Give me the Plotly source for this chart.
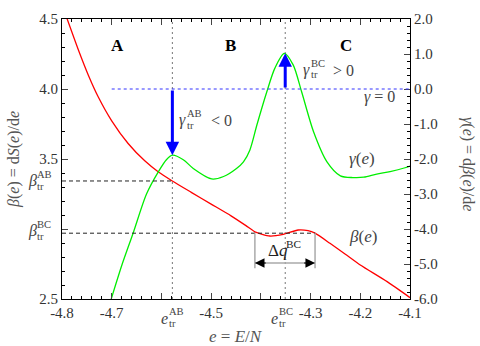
import plotly.graph_objects as go

# beta(e)
e_beta = [-4.791, -4.767, -4.747, -4.727, -4.700, -4.667, -4.633, -4.606, -4.579,
          -4.540, -4.500, -4.460, -4.430, -4.412, -4.382, -4.355, -4.325, -4.305,
          -4.291, -4.261, -4.230, -4.200, -4.146, -4.100]
beta = [4.514, 4.279, 4.099, 3.943, 3.773, 3.611, 3.485, 3.407, 3.345,
        3.262, 3.178, 3.094, 3.024, 2.980, 2.950, 2.962, 2.993, 2.988,
        2.970, 2.898, 2.820, 2.743, 2.624, 2.510]

# gamma(e)
e_gamma = [-4.701, -4.680, -4.657, -4.630, -4.606, -4.590, -4.578, -4.556, -4.536,
           -4.499, -4.475, -4.449, -4.435, -4.422, -4.408, -4.388, -4.372, -4.353,
           -4.335, -4.318, -4.294, -4.267, -4.240, -4.215, -4.193, -4.167, -4.140,
           -4.110, -4.100]
gamma = [-6.00, -5.05, -4.12, -3.00, -2.36, -2.02, -1.89, -2.02, -2.27,
         -2.57, -2.50, -2.27, -2.08, -1.74, -1.03, -0.08, 0.59, 1.02,
         0.69, -0.08, -1.22, -2.08, -2.48, -2.53, -2.52, -2.43, -2.36,
         -2.25, -2.20]

e_tr_ab = -4.578
e_tr_bc = -4.351
beta_tr_ab = 3.343
beta_tr_bc = 2.970
gamma_tr_ab = -1.89
gamma_tr_bc = 1.02
dq_left = -4.412
dq_right = -4.291

x_ticks = [-4.8, -4.7, -4.6, -4.5, -4.4, -4.3, -4.2, -4.1]
x_ticktext = ['-4.8', '-4.7', '', '-4.5', '', '-4.3', '-4.2', '-4.1']
y_ticks = [2.5, 3.0, 3.5, 4.0, 4.5]
y_ticktext = ['2.5', '', '3.5', '4.0', '4.5']
y2_ticks = [-6, -5, -4, -3, -2, -1, 0, 1, 2]
y2_ticktext = ['-6.0', '-5.0', '-4.0', '-3.0', '-2.0', '-1.0', '0.0', '1.0', '2.0']

FONT = 'Liberation Serif'
L, R, T, B = 62, 70, 19, 47
W, H = 480, 346


def paper(px, py):
    # pixel position in the window -> paper coordinates
    return (px - L) / (W - L - R), (H - B - py) / (H - T - B)


def text(fig, px, py, s, size=16, color='#444', anchor='left', angle=0):
    x, y = paper(px, py)
    fig.add_annotation(x=x, y=y, xref='paper', yref='paper', text=s, showarrow=False,
                       xanchor=anchor, yanchor='middle', textangle=angle,
                       font=dict(family=FONT, size=size, color=color))


def math_sym(fig, px, py, base, sup, sub, size=16, color='#444', base_w=8):
    # symbol with stacked superscript and subscript
    text(fig, px, py, base, size, color)
    text(fig, px + base_w, py - 7, sup, size * 0.66, color)
    if sub:
        text(fig, px + base_w, py + 5, sub, size * 0.66, color)


fig = go.Figure()
fig.add_trace(go.Scatter(x=e_beta, y=beta, mode='lines',
                         line=dict(color='#ff0000', width=1.3, shape='spline', smoothing=0.6),
                         yaxis='y', showlegend=False))
fig.add_trace(go.Scatter(x=e_gamma, y=gamma, mode='lines',
                         line=dict(color='#00ee00', width=1.3, shape='spline', smoothing=0.8),
                         yaxis='y2', showlegend=False))

# guide lines
for xv in [e_tr_ab, e_tr_bc]:
    fig.add_shape(type='line', x0=xv, x1=xv, y0=0, y1=1, xref='x', yref='paper',
                  line=dict(color='#777', width=1, dash='2px,3px'), layer='below')
fig.add_shape(type='line', x0=-4.8, x1=e_tr_ab, y0=beta_tr_ab, y1=beta_tr_ab, xref='x', yref='y',
              line=dict(color='#222', width=1, dash='4px,3px'))
fig.add_shape(type='line', x0=-4.8, x1=dq_right, y0=beta_tr_bc, y1=beta_tr_bc, xref='x', yref='y',
              line=dict(color='#222', width=1, dash='4px,3px'))
fig.add_shape(type='line', x0=-4.7, x1=-4.1, y0=0, y1=0, xref='x', yref='y2',
              line=dict(color='#3333ff', width=1, dash='3px,3px'))

# delta q bracket
for xv in [dq_left, dq_right]:
    fig.add_shape(type='line', x0=xv, x1=xv, y0=beta_tr_bc, y1=2.72, xref='x', yref='y',
                  line=dict(color='#aaa', width=1.5))
fig.add_shape(type='line', x0=dq_left, x1=dq_right, y0=2.757, y1=2.757, xref='x', yref='y',
              line=dict(color='#aaa', width=1.5))
for xv, off in [(dq_left, 0.025), (dq_right, -0.025)]:
    fig.add_annotation(x=xv, y=2.757, ax=xv + off, ay=2.757, xref='x', yref='y', axref='x', ayref='y',
                       text='', showarrow=True, arrowhead=2, arrowsize=1.6, arrowwidth=1.2, arrowcolor='black')

# gamma_tr arrows
fig.add_annotation(x=e_tr_ab, y=gamma_tr_ab, ax=e_tr_ab, ay=0, xref='x', yref='y2', axref='x', ayref='y2',
                   text='', showarrow=True, arrowhead=2, arrowsize=0.9, arrowwidth=3, arrowcolor='#0000ff')
fig.add_annotation(x=e_tr_bc, y=gamma_tr_bc, ax=e_tr_bc, ay=0, xref='x', yref='y2', axref='x', ayref='y2',
                   text='', showarrow=True, arrowhead=2, arrowsize=0.9, arrowwidth=3, arrowcolor='#0000ff')

# region letters
for px, s in [(117.5, 'A'), (230.7, 'B'), (346, 'C')]:
    text(fig, px, 45, '<b>%s</b>' % s, 17, 'black', 'center')

math_sym(fig, 177, 120, '<i>γ</i>', 'AB', 'tr')
text(fig, 209, 120, '&lt; 0')
math_sym(fig, 301, 70, '<i>γ</i>', 'BC', 'tr')
text(fig, 331, 70, '&gt; 0')
text(fig, 362, 97, '<i>γ</i> = 0')
text(fig, 347, 158, '<i>γ</i>(<i>e</i>)', 17)
text(fig, 347, 236, '<i>β</i>(<i>e</i>)', 17)
math_sym(fig, 266, 251, 'Δ<i>q</i>', 'BC', '', 17, '#222', base_w=18)

# left labels for beta_tr
math_sym(fig, 26, 181, '<i>β</i>', 'AB', 'tr', 16, '#444', base_w=9)
math_sym(fig, 26, 231, '<i>β</i>', 'BC', 'tr', 16, '#444', base_w=9)

# bottom labels for e_tr
math_sym(fig, 159, 318, '<i>e</i>', 'AB', 'tr', 16, '#444', base_w=8)
math_sym(fig, 269, 318, '<i>e</i>', 'BC', 'tr', 16, '#444', base_w=8)

# axis titles
text(fig, 236, 336, '<i>e</i> = <i>E</i>/<i>N</i>', 17, '#555', 'center')
text(fig, 14, 160, '<i>β</i>(<i>e</i>) = d<i>S</i>(<i>e</i>)/d<i>e</i>', 16, '#555', 'center', -90)
text(fig, 468, 164, '<i>γ</i>(<i>e</i>) = d<i>β</i>(<i>e</i>)/d<i>e</i>', 16, '#555', 'center', 90)

tickfont = dict(family=FONT, size=15, color='#333')
fig.update_layout(
    width=W, height=H,
    margin=dict(l=L, r=R, t=T, b=B),
    plot_bgcolor='white', paper_bgcolor='white',
    xaxis=dict(range=[-4.8, -4.1], tickvals=x_ticks, ticktext=x_ticktext, ticks='inside', ticklen=6,
               showline=True, linecolor='black', linewidth=1.2, mirror='ticks', showgrid=False, zeroline=False,
               tickfont=tickfont,
               minor=dict(ticks='inside', ticklen=3, tick0=-4.8, dtick=0.02, tickcolor='black', showgrid=False)),
    yaxis=dict(range=[2.5, 4.5], tickvals=y_ticks, ticktext=y_ticktext, ticks='inside', ticklen=6,
               showline=True, linecolor='black', linewidth=1.2, showgrid=False, zeroline=False,
               tickfont=tickfont,
               minor=dict(ticks='inside', ticklen=3, tick0=2.5, dtick=0.1, tickcolor='black', showgrid=False)),
    yaxis2=dict(range=[-6, 2], tickvals=y2_ticks, ticktext=y2_ticktext, ticks='inside', ticklen=6,
                overlaying='y', side='right', showline=True, linecolor='black', linewidth=1.2,
                showgrid=False, zeroline=False, tickfont=tickfont,
                minor=dict(ticks='inside', ticklen=3, tick0=-6, dtick=0.2, tickcolor='black', showgrid=False)),
)

# drop the default page margin so the figure sits at the window's corner
fig.write_html("out.html", config={'displayModeBar': False},
               post_script="document.body.style.margin='0';")
